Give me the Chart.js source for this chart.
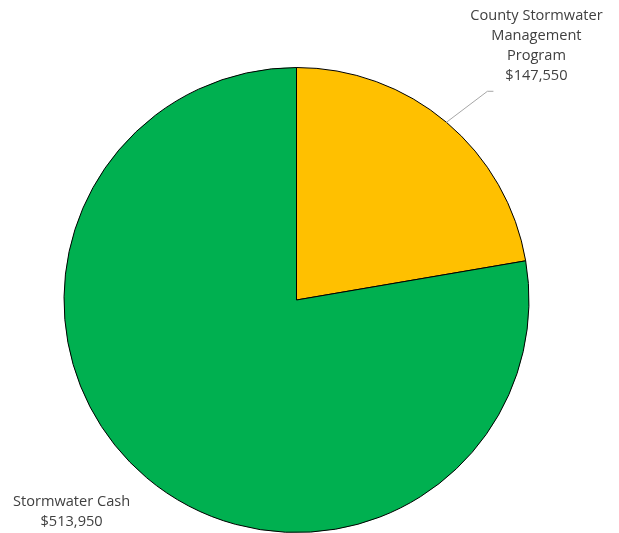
<!DOCTYPE html>
<html>
<head>
<meta charset="utf-8">
<script src="https://cdn.jsdelivr.net/npm/chart.js@4"></script>
<style>
  html, body { margin: 0; padding: 0; background: #fff; }
  #wrap { width: 619px; height: 533px; }
</style>
</head>
<body>
<div id="wrap"><canvas id="pie" width="619" height="533"></canvas></div>
<script>
// data
const categories = ['County Stormwater Management Program', 'Stormwater Cash'];
const labelLines = [['County Stormwater', 'Management', 'Program'], ['Stormwater Cash']];
const amounts = [147550, 513950];
const sliceColors = ['#FFC000', '#00B050'];

const fmt = v => '$' + v.toLocaleString('en-US');

// draws the outside labels (and the leader line for the small slice)
const outsideLabels = {
  id: 'outsideLabels',
  afterDatasetsDraw(chart) {
    const ctx = chart.ctx;
    const arcs = chart.getDatasetMeta(0).data;
    ctx.save();
    ctx.font = '14.6px "Open Sans", Lato, sans-serif';
    ctx.fillStyle = '#404040';
    ctx.textAlign = 'center';
    ctx.textBaseline = 'middle';

    arcs.forEach((arc, i) => {
      const mid = (arc.startAngle + arc.endAngle) / 2;
      const ex = arc.x + Math.cos(mid) * arc.outerRadius;
      const ey = arc.y + Math.sin(mid) * arc.outerRadius;
      const lines = labelLines[i].concat([fmt(amounts[i])]);
      let tx, ty;
      if (i === 0) {
        // leader line
        ctx.strokeStyle = '#A6A6A6';
        ctx.lineWidth = 1;
        ctx.beginPath();
        ctx.moveTo(ex, ey);
        ctx.lineTo(ex + 41, ey - 31);
        ctx.lineTo(ex + 47, ey - 31);
        ctx.stroke();
        tx = ex + 90;
        ty = ey - 106;
      } else {
        tx = ex - 75;
        ty = ey + 24;
      }
      lines.forEach((t, k) => ctx.fillText(t, tx, ty + k * 20));
    });
    ctx.restore();
  }
};

new Chart(document.getElementById('pie'), {
  type: 'pie',
  data: {
    labels: categories,
    datasets: [{
      data: amounts,
      backgroundColor: sliceColors,
      borderColor: '#000000',
      borderWidth: 1
    }]
  },
  options: {
    responsive: false,
    animation: false,
    layout: { padding: { left: 63, right: 89, top: 67, bottom: 0 } },
    plugins: {
      legend: { display: false },
      tooltip: { enabled: false }
    }
  },
  plugins: [outsideLabels]
});
</script>
</body>
</html>
